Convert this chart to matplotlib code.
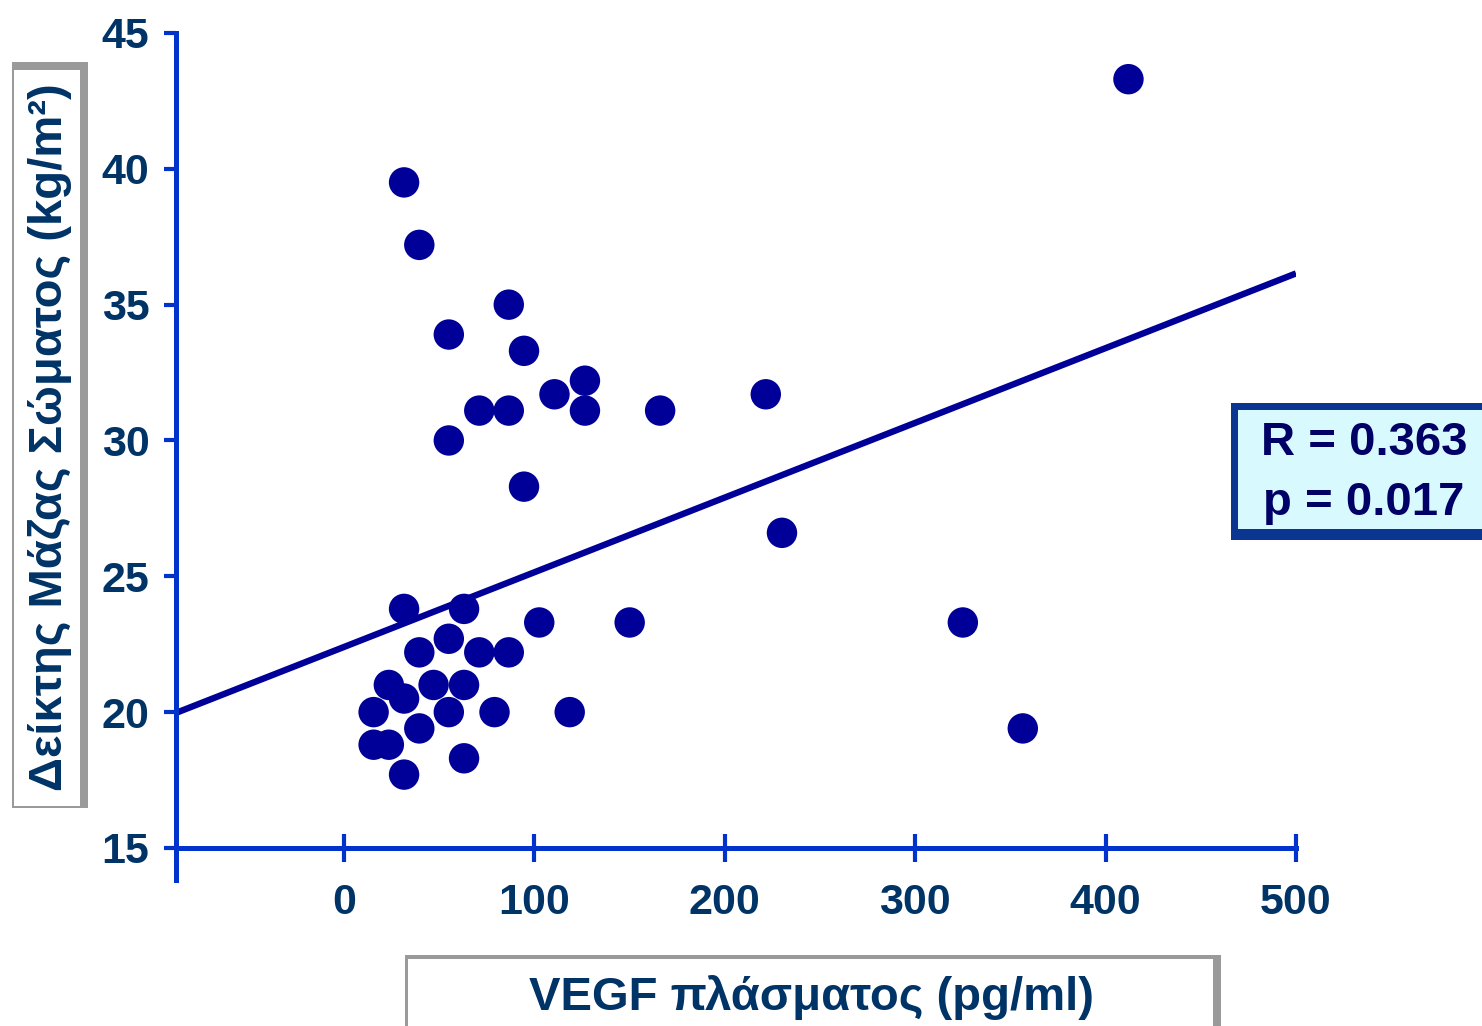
import matplotlib
matplotlib.use("Agg")
import matplotlib.pyplot as plt
from matplotlib.patches import Rectangle
import numpy as np

# VEGF (pg/ml) vs BMI (kg/m2)
vegf = [412, 31.5, 39.5, 86.5, 55, 94.5, 126.5, 110.5, 221.5, 71, 86.5, 126.5, 166,
        55, 94.5, 230, 31.5, 63, 102.5, 150, 325, 55, 39.5, 71, 86.5,
        23.5, 47, 63, 31.5, 15.5, 55, 79, 118.5, 39.5, 356.5, 15.5, 23.5, 63, 31.5]
bmi = [43.3, 39.5, 37.2, 35.0, 33.9, 33.3, 32.2, 31.7, 31.7, 31.1, 31.1, 31.1, 31.1,
       30.0, 28.3, 26.6, 23.8, 23.8, 23.3, 23.3, 23.3, 22.7, 22.2, 22.2, 22.2,
       21.0, 21.0, 21.0, 20.5, 20.0, 20.0, 20.0, 20.0, 19.4, 19.4, 18.8, 18.8, 18.3, 17.7]

# regression line as drawn in the original
fit_slope = 0.0275
fit_intercept = 22.4

x_ticks = [0, 100, 200, 300, 400, 500]
y_ticks = [15, 20, 25, 30, 35, 40, 45]
stats_text = "R = 0.363\np = 0.017"
x_label = "VEGF πλάσματος (pg/ml)"
y_label = "Δείκτης Μάζας Σώματος (kg/m²)"

W, H = 1482, 1026
axis_col = '#0033cc'
dot_col = '#000099'
text_col = '#003366'

plt.rcParams['font.family'] = ['Liberation Sans', 'DejaVu Sans']

fig = plt.figure(figsize=(W / 100, H / 100), dpi=100)


def px_box(x0, y0, x1, y1):
    # pixel box (top-down) -> figure fraction rect
    return (x0 / W, 1 - y1 / H, (x1 - x0) / W, (y1 - y0) / H)


def add_rect(box, col):
    r = px_box(*box)
    fig.patches.append(Rectangle(r[:2], r[2], r[3], transform=fig.transFigure,
                                 facecolor=col, edgecolor='none'))


ax = fig.add_axes(px_box(176, 33, 1296, 880))
ax.set_xlim(-88.3, 500)
ax.set_ylim(13.82, 45)

ax.scatter(vegf, bmi, s=480, color=dot_col, edgecolors='none', zorder=3, clip_on=False)

xl = np.array([-88.3, 500])
ax.plot(xl, fit_intercept + fit_slope * xl, color=dot_col, lw=4.6, solid_capstyle='butt', zorder=2)

for s in ['top', 'right']:
    ax.spines[s].set_visible(False)
ax.spines['bottom'].set_position(('data', 15))
for s in ['left', 'bottom']:
    ax.spines[s].set_color(axis_col)
    ax.spines[s].set_linewidth(3.6)

ax.set_xticks(x_ticks)
ax.set_yticks(y_ticks)
ax.tick_params(axis='x', direction='inout', length=20, width=3, color=axis_col,
               labelsize=31, labelcolor=text_col, pad=15)
ax.tick_params(axis='y', direction='out', length=9, width=3, color=axis_col,
               labelsize=31, labelcolor=text_col, pad=10)
for lab in ax.get_xticklabels() + ax.get_yticklabels():
    lab.set_fontweight('bold')

# bevelled label boxes
add_rect((12, 62, 88, 808), '#9a9a9a')
add_rect((14, 70, 80, 806), 'white')
add_rect((405, 955, 1221, 1026), '#9a9a9a')
add_rect((408, 959, 1213, 1026), 'white')

fig.text(50 / W, 1 - 437 / H, y_label, rotation=90, ha='center', va='center',
         fontsize=34, fontweight='bold', color=text_col)
fig.text(812 / W, 1 - 998 / H, x_label, ha='center', va='center',
         fontsize=34, fontweight='bold', color=text_col)

# stats box
add_rect((1231, 403, 1482, 540), '#0a3590')
add_rect((1238, 410, 1482, 529), '#d8f9fd')
fig.text(1364 / W, 1 - 473 / H, stats_text, ha='center', va='center', fontsize=34,
         fontweight='bold', color='#000066', linespacing=1.45)

fig.savefig('out.png', dpi=100)
